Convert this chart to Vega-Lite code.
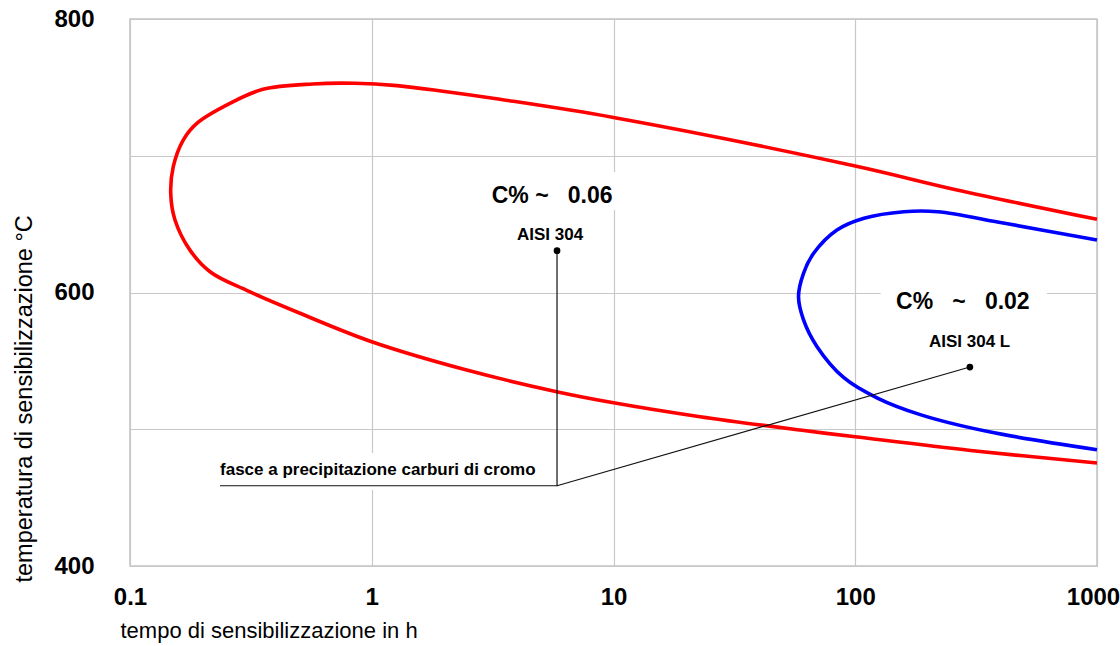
{
  "$schema": "https://vega.github.io/schema/vega-lite/v6.json",
  "width": 967,
  "height": 547,
  "autosize": "none",
  "padding": {"left": 130, "top": 19, "right": 23, "bottom": 80},
  "background": "white",
  "config": {
    "view": {"stroke": "#c4c4c4", "strokeWidth": 1.5},
    "axis": {
      "grid": true,
      "gridColor": "#c8c8c8",
      "gridWidth": 1.2,
      "domain": false,
      "ticks": false,
      "labelFont": "Liberation Sans, Arial, sans-serif",
      "labelFontWeight": "bold",
      "labelFontSize": 24,
      "labelColor": "#000000",
      "titleFont": "Liberation Sans, Arial, sans-serif",
      "titleFontWeight": "normal",
      "titleFontSize": 22,
      "titleColor": "#000000"
    }
  },
  "datasets": {
    "curves": [
      {"curve": "0.06", "order": 1, "t": 1000, "T": 653.5},
      {"curve": "0.06", "order": 2, "t": 263.6, "T": 675},
      {"curve": "0.06", "order": 3, "t": 100, "T": 692.5},
      {"curve": "0.06", "order": 4, "t": 10, "T": 728},
      {"curve": "0.06", "order": 5, "t": 3.39, "T": 741.3},
      {"curve": "0.06", "order": 6, "t": 1.97, "T": 747.2},
      {"curve": "0.06", "order": 7, "t": 1.27, "T": 751.3},
      {"curve": "0.06", "order": 8, "t": 0.85, "T": 753},
      {"curve": "0.06", "order": 9, "t": 0.57, "T": 752.5},
      {"curve": "0.06", "order": 10, "t": 0.355, "T": 748.6},
      {"curve": "0.06", "order": 11, "t": 0.259, "T": 738.3},
      {"curve": "0.06", "order": 12, "t": 0.189, "T": 723.7},
      {"curve": "0.06", "order": 13, "t": 0.166, "T": 711.5},
      {"curve": "0.06", "order": 14, "t": 0.151, "T": 692},
      {"curve": "0.06", "order": 15, "t": 0.1474, "T": 672.5},
      {"curve": "0.06", "order": 16, "t": 0.1535, "T": 653},
      {"curve": "0.06", "order": 17, "t": 0.177, "T": 631},
      {"curve": "0.06", "order": 18, "t": 0.215, "T": 615},
      {"curve": "0.06", "order": 19, "t": 0.304, "T": 601.5},
      {"curve": "0.06", "order": 20, "t": 0.505, "T": 584.8},
      {"curve": "0.06", "order": 21, "t": 1.0, "T": 564},
      {"curve": "0.06", "order": 22, "t": 2.47, "T": 543.3},
      {"curve": "0.06", "order": 23, "t": 5.82, "T": 527.5},
      {"curve": "0.06", "order": 24, "t": 10, "T": 519.4},
      {"curve": "0.06", "order": 25, "t": 22.8, "T": 509.2},
      {"curve": "0.06", "order": 26, "t": 59.1, "T": 499.4},
      {"curve": "0.06", "order": 27, "t": 100, "T": 494.5},
      {"curve": "0.06", "order": 28, "t": 300, "T": 484.5},
      {"curve": "0.06", "order": 29, "t": 1000, "T": 475.3},
      {"curve": "0.02", "order": 1, "t": 1000, "T": 638.4},
      {"curve": "0.02", "order": 2, "t": 415, "T": 650.6},
      {"curve": "0.02", "order": 3, "t": 219, "T": 659.1},
      {"curve": "0.02", "order": 4, "t": 159, "T": 659.1},
      {"curve": "0.02", "order": 5, "t": 108.7, "T": 654.3},
      {"curve": "0.02", "order": 6, "t": 84, "T": 645.7},
      {"curve": "0.02", "order": 7, "t": 67.3, "T": 628.7},
      {"curve": "0.02", "order": 8, "t": 61.1, "T": 614},
      {"curve": "0.02", "order": 9, "t": 58.25, "T": 597},
      {"curve": "0.02", "order": 10, "t": 61.1, "T": 580},
      {"curve": "0.02", "order": 11, "t": 69.5, "T": 560.4},
      {"curve": "0.02", "order": 12, "t": 89.7, "T": 537.7},
      {"curve": "0.02", "order": 13, "t": 123.5, "T": 522.8},
      {"curve": "0.02", "order": 14, "t": 187, "T": 510.5},
      {"curve": "0.02", "order": 15, "t": 354, "T": 498.3},
      {"curve": "0.02", "order": 16, "t": 1000, "T": 485}
    ],
    "boxes": [
      {"t": 2.94, "t2": 10.64, "T": 660.3, "T2": 688.1},
      {"t": 127.4, "t2": 620, "T": 581.3, "T2": 606.9},
      {"t": 0.2247, "t2": 5.21, "T": 455.6, "T2": 482.6}
    ],
    "leaders": [
      {"seg": "a", "order": 1, "t": 5.84, "T": 630.6},
      {"seg": "a", "order": 2, "t": 5.84, "T": 458.7},
      {"seg": "a", "order": 3, "t": 0.2357, "T": 458.7},
      {"seg": "b", "order": 1, "t": 5.84, "T": 458.7},
      {"seg": "b", "order": 2, "t": 298, "T": 545.5}
    ],
    "dots": [
      {"t": 5.84, "T": 630.6},
      {"t": 298, "T": 545.5}
    ],
    "labels": [
      {"kind": "big", "t": 3.135, "T": 665.4, "text": "C% ~\u00a0\u00a0\u00a00.06"},
      {"kind": "big", "t": 147.5, "T": 587.6, "text": "C%\u00a0\u00a0\u00a0~\u00a0\u00a0\u00a00.02"},
      {"kind": "small", "t": 3.99, "T": 638.4, "text": "AISI 304"},
      {"kind": "small", "t": 201.8, "T": 560.4, "text": "AISI 304 L"},
      {"kind": "small", "t": 0.2357, "T": 466.5, "text": "fasce a precipitazione carburi di cromo"}
    ]
  },
  "encoding": {
    "x": {
      "field": "t",
      "type": "quantitative",
      "scale": {"type": "log", "domain": [0.1, 1000], "nice": false},
      "axis": {
        "values": [0.1, 1, 10, 100, 1000],
        "labelExpr": "datum.value < 0.5 ? '0.1' : format(datum.value, 'd')",
        "labelPadding": 19,
        "labelOffset": {"condition": {"test": "datum.value >= 1000", "value": -4}, "value": 0},
        "labelFlush": false,
        "title": "tempo di sensibilizzazione in h",
        "titleX": -10,
        "titleY": 71,
        "titleAlign": "left",
        "titleBaseline": "alphabetic"
      }
    },
    "y": {
      "field": "T",
      "type": "quantitative",
      "scale": {"domain": [400, 800], "nice": false, "zero": false},
      "axis": {
        "values": [400, 500, 600, 700, 800],
        "labelExpr": "datum.value % 200 == 0 ? datum.label : ''",
        "labelPadding": 36,
        "labelFlush": false,
        "title": "temperatura di sensibilizzazione °C",
        "titleFontSize": 23.5,
        "titleAngle": 270,
        "titleX": -106,
        "titleY": 563,
        "titleAlign": "left",
        "titleBaseline": "middle"
      }
    }
  },
  "layer": [
    {
      "data": {"name": "boxes"},
      "mark": {"type": "rect", "fill": "white", "stroke": null},
      "encoding": {"x2": {"field": "t2"}, "y2": {"field": "T2"}}
    },
    {
      "data": {"name": "curves"},
      "mark": {"type": "line", "strokeWidth": 3.6, "interpolate": "catmull-rom"},
      "encoding": {
        "order": {"field": "order", "type": "quantitative"},
        "color": {
          "field": "curve",
          "type": "nominal",
          "scale": {"domain": ["0.06", "0.02"], "range": ["#ff0000", "#0000ff"]},
          "legend": null
        }
      }
    },
    {
      "data": {"name": "leaders"},
      "mark": {"type": "line", "strokeWidth": 1.2, "color": "#111111"},
      "encoding": {
        "order": {"field": "order", "type": "quantitative"},
        "detail": {"field": "seg", "type": "nominal"}
      }
    },
    {
      "data": {"name": "dots"},
      "mark": {"type": "point", "filled": true, "size": 45, "color": "#000000", "opacity": 1}
    },
    {
      "data": {"name": "labels"},
      "transform": [{"filter": "datum.kind == 'big'"}],
      "mark": {"type": "text", "align": "left", "baseline": "alphabetic", "font": "Liberation Sans, Arial, sans-serif", "fontWeight": "bold", "fontSize": 23, "color": "#000000"},
      "encoding": {"text": {"field": "text"}}
    },
    {
      "data": {"name": "labels"},
      "transform": [{"filter": "datum.kind == 'small'"}],
      "mark": {"type": "text", "align": "left", "baseline": "alphabetic", "font": "Liberation Sans, Arial, sans-serif", "fontWeight": "bold", "fontSize": 17, "color": "#000000"},
      "encoding": {"text": {"field": "text"}}
    }
  ]
}
